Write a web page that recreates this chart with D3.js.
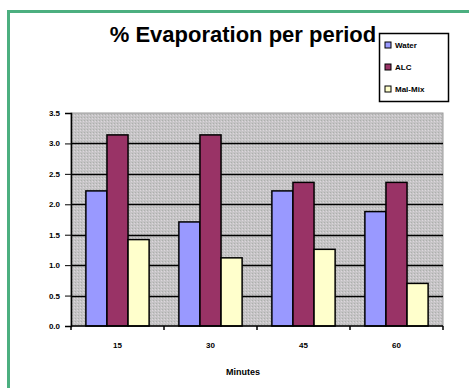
<!DOCTYPE html>
<html>
<head>
<meta charset="utf-8">
<script src="https://cdn.jsdelivr.net/npm/d3@7"></script>
<style>
  body { margin: 0; background: #fff; }
  svg { display: block; font-family: Arial, "Liberation Sans", sans-serif; }
</style>
</head>
<body>
<div id="chart"></div>
<script>
// Data
const minutes = ['15', '30', '45', '60'];
const seriesNames = ['Water', 'ALC', 'Mal-Mix'];
const water = [2.22, 1.71, 2.22, 1.88];
const alc = [3.14, 3.14, 2.36, 2.36];
const malMix = [1.42, 1.12, 1.26, 0.70];
const yTicks = [0, 0.5, 1, 1.5, 2, 2.5, 3, 3.5];

const colors = {
    'Water': '#9999ff',
    'ALC': '#993366',
    'Mal-Mix': '#ffffcc'
};

const values = { 'Water': water, 'ALC': alc, 'Mal-Mix': malMix };

const W = 469, H = 388;
const plot = { left: 71, right: 443, top: 113, bottom: 326 };

const svg = d3.select('#chart').append('svg')
    .attr('width', W)
    .attr('height', H);

// dotted grey pattern for the plot area
const defs = svg.append('defs');
const pat = defs.append('pattern')
    .attr('id', 'dots')
    .attr('width', 3).attr('height', 3)
    .attr('patternUnits', 'userSpaceOnUse');
pat.append('rect').attr('width', 3).attr('height', 3).attr('fill', '#c6c4c6');
pat.append('rect').attr('x', 0).attr('y', 0).attr('width', 1).attr('height', 1).attr('fill', '#acb0ac');
pat.append('rect').attr('x', 2).attr('y', 1).attr('width', 1).attr('height', 1).attr('fill', '#dcd8dc');

// green frame
svg.append('path')
    .attr('d', `M8.5,${H} V11.5 H${W}`)
    .attr('fill', 'none')
    .attr('stroke', '#4caf80')
    .attr('stroke-width', 3);

// scales
const x = d3.scaleBand()
    .domain(minutes)
    .range([plot.left, plot.right])
    .paddingInner(0.32)
    .paddingOuter(0.16);

const xs = d3.scaleBand()
    .domain(seriesNames)
    .range([0, x.bandwidth()]);

const y = d3.scaleLinear()
    .domain([0, 3.5])
    .range([plot.bottom, plot.top]);

// plot background
svg.append('rect')
    .attr('x', plot.left)
    .attr('y', plot.top)
    .attr('width', plot.right - plot.left)
    .attr('height', plot.bottom - plot.top)
    .attr('fill', 'url(#dots)')
    .attr('stroke', '#9a9a9a')
    .attr('stroke-width', 1);

// gridlines
svg.append('g')
    .selectAll('line')
    .data(yTicks.filter(d => d > 0 && d < 3.5))
    .enter()
    .append('line')
    .attr('x1', plot.left)
    .attr('x2', plot.right)
    .attr('y1', d => Math.round(y(d)) + 0.5)
    .attr('y2', d => Math.round(y(d)) + 0.5)
    .attr('stroke', '#000')
    .attr('stroke-width', 1.5);

// bars
const groups = svg.append('g')
    .selectAll('g')
    .data(minutes)
    .enter()
    .append('g')
    .attr('transform', d => `translate(${x(d)},0)`);

groups.selectAll('rect')
    .data((m, i) => seriesNames.map(s => ({ series: s, value: values[s][i] })))
    .enter()
    .append('rect')
    .attr('x', d => xs(d.series))
    .attr('y', d => y(d.value))
    .attr('width', xs.bandwidth())
    .attr('height', d => y(0) - y(d.value))
    .attr('fill', d => colors[d.series])
    .attr('stroke', '#000')
    .attr('stroke-width', 1.5);

// y axis
const yAxis = d3.axisLeft(y)
    .tickValues(yTicks)
    .tickFormat(d3.format('.1f'))
    .tickSize(6)
    .tickPadding(5);

const yG = svg.append('g')
    .attr('transform', `translate(${plot.left},0)`)
    .call(yAxis);
yG.select('.domain').attr('stroke-width', 1.5);
yG.selectAll('text')
    .style('font-size', '8px')
    .style('font-weight', 'bold')
    .attr('fill', '#000');

// x axis: ticks at the group boundaries
const bounds = d3.range(minutes.length + 1).map(i => plot.left + i * x.step());
svg.append('line')
    .attr('x1', plot.left).attr('x2', plot.right)
    .attr('y1', plot.bottom).attr('y2', plot.bottom)
    .attr('stroke', '#000').attr('stroke-width', 1.5);
svg.append('g')
    .selectAll('line')
    .data(bounds)
    .enter()
    .append('line')
    .attr('x1', d => d).attr('x2', d => d)
    .attr('y1', plot.bottom).attr('y2', plot.bottom + 4)
    .attr('stroke', '#000').attr('stroke-width', 1.5);

svg.append('g')
    .selectAll('text')
    .data(minutes)
    .enter()
    .append('text')
    .attr('x', d => x(d) + x.bandwidth() / 2)
    .attr('y', 348)
    .attr('text-anchor', 'middle')
    .style('font-size', '8px')
    .style('font-weight', 'bold')
    .text(d => d);

// axis title
svg.append('text')
    .attr('x', 243)
    .attr('y', 375)
    .attr('text-anchor', 'middle')
    .style('font-size', '9px')
    .style('font-weight', 'bold')
    .text('Minutes');

// chart title
svg.append('text')
    .attr('x', 243)
    .attr('y', 42)
    .attr('text-anchor', 'middle')
    .style('font-size', '22px')
    .style('font-weight', 'bold')
    .text('% Evaporation per period');

// legend
const legend = svg.append('g').attr('transform', 'translate(379,33)');
legend.append('rect')
    .attr('x', 0.5).attr('y', 0.5)
    .attr('width', 69).attr('height', 68)
    .attr('fill', '#fff')
    .attr('stroke', '#000')
    .attr('stroke-width', 1.5);

const items = legend.selectAll('g')
    .data(seriesNames)
    .enter()
    .append('g')
    .attr('transform', (d, i) => `translate(6,${12 + i * 22})`);

items.append('rect')
    .attr('x', 0).attr('y', -3)
    .attr('width', 6).attr('height', 6)
    .attr('fill', d => colors[d])
    .attr('stroke', '#000')
    .attr('stroke-width', 1);

items.append('text')
    .attr('x', 10)
    .attr('y', 3)
    .style('font-size', '8px')
    .style('font-weight', 'bold')
    .text(d => d);
</script>
</body>
</html>
